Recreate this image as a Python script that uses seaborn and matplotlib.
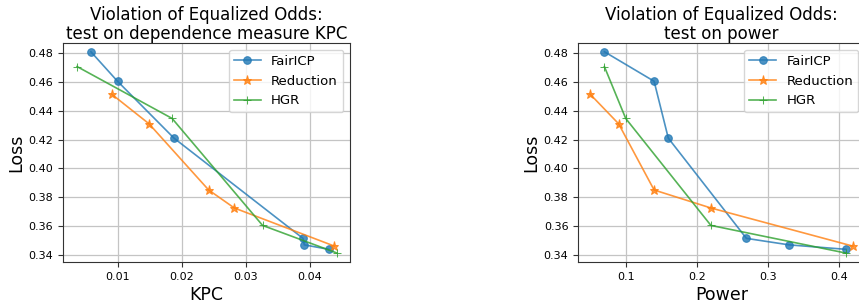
import numpy as np
import pandas as pd
import seaborn as sns
import matplotlib
matplotlib.use('Agg')
import matplotlib.pyplot as plt

methods = ['FairICP', 'Reduction', 'HGR']
markers = ['o', '*', '+']

fairicp_kpc = [0.00585, 0.0100, 0.0188, 0.0389, 0.0391, 0.0429]
fairicp_power = [0.07, 0.14, 0.16, 0.27, 0.33, 0.41]
fairicp_loss = [0.481, 0.4605, 0.421, 0.3514, 0.3469, 0.3438]

reduction_kpc = [0.0091, 0.0149, 0.0242, 0.0282, 0.0438]
reduction_power = [0.05, 0.09, 0.14, 0.22, 0.42]
reduction_loss = [0.4515, 0.431, 0.385, 0.3725, 0.346]

hgr_kpc = [0.0037, 0.0185, 0.0326, 0.0442]
hgr_power = [0.07, 0.10, 0.22, 0.41]
hgr_loss = [0.4707, 0.4347, 0.3604, 0.3412]

kpc = [fairicp_kpc, reduction_kpc, hgr_kpc]
power = [fairicp_power, reduction_power, hgr_power]
loss = [fairicp_loss, reduction_loss, hgr_loss]

plt.rcParams['font.family'] = ['DejaVu Sans']
colors = sns.color_palette('tab10', 3)
msizes = [5.5, 6.5, 5.5]

fig = plt.figure(figsize=(8.59, 3.07), dpi=100)
ax1 = fig.add_axes([0.0733, 0.1466, 0.334, 0.713])
ax2 = fig.add_axes([0.673, 0.1466, 0.334, 0.713])


def draw(ax, xs, xlabel, title):
    for i, m in enumerate(methods):
        df = pd.DataFrame({'x': xs[i], 'loss': loss[i]})
        sns.lineplot(data=df, x='x', y='loss', sort=False, marker=markers[i],
                     markersize=msizes[i], markeredgecolor=colors[i],
                     color=colors[i], alpha=0.8, linewidth=1.2, label=m, ax=ax)
    ax.grid(True, color='#c4c4c4', linewidth=0.9)
    ax.set_axisbelow(True)
    for s in ax.spines.values():
        s.set_color('#333333')
    ax.set_xlabel(xlabel, fontsize=12.5, labelpad=3)
    ax.set_ylabel('Loss', fontsize=12.5, labelpad=2)
    ax.set_title(title, fontsize=12, linespacing=1.1, pad=3)
    ax.tick_params(labelsize=8, color='#333333')
    ax.set_yticks([0.34, 0.36, 0.38, 0.40, 0.42, 0.44, 0.46, 0.48])
    ax.set_ylim(0.335, 0.487)
    ax.legend(loc='upper right', fontsize=9.5, handlelength=2.0)


draw(ax1, kpc, 'KPC', 'Violation of Equalized Odds:\ntest on dependence measure KPC')
ax1.set_xticks([0.01, 0.02, 0.03, 0.04])
ax1.set_xlim(0.0015, 0.0462)

draw(ax2, power, 'Power', 'Violation of Equalized Odds:\ntest on power')
ax2.set_xticks([0.1, 0.2, 0.3, 0.4])
ax2.set_xlim(0.033, 0.437)

fig.savefig('out.png', dpi=100)
